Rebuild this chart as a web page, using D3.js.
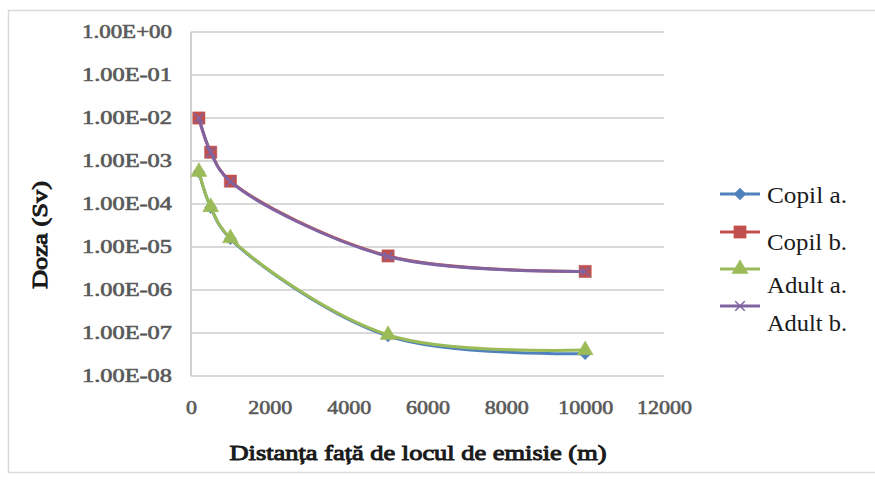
<!DOCTYPE html>
<html>
<head>
<meta charset="utf-8">
<script src="https://cdn.jsdelivr.net/npm/d3@7"></script>
<style>
  body { margin: 0; background: #fff; }
  svg { display: block; font-family: "Liberation Serif", serif; }
  svg text { font-family: "Liberation Serif", serif; }
</style>
</head>
<body>
<svg width="875" height="483"></svg>
<script>
// distances (m) and doses (Sv)
var distances = [200, 500, 1000, 5000, 10000]
var copilA = [5.5e-4, 8.3e-5, 1.55e-5, 8.5e-8, 3.3e-8]
var copilB = [1.0e-2, 1.6e-3, 3.4e-4, 6.2e-6, 2.7e-6]
var adultA = [5.6e-4, 8.5e-5, 1.6e-5, 9.0e-8, 4.0e-8]
var adultB = [1.0e-2, 1.6e-3, 3.3e-4, 6.0e-6, 2.7e-6]
var seriesNames = ['Copil a.', 'Copil b.', 'Adult a.', 'Adult b.']
var xTicks = [0, 2000, 4000, 6000, 8000, 10000, 12000]
var yTicks = [1e-8, 1e-7, 1e-6, 1e-5, 1e-4, 1e-3, 1e-2, 1e-1, 1e0]

var colors = ['#4f81bd', '#c0504d', '#9bbb59', '#8064a2']
var symbols = [d3.symbolDiamond2, d3.symbolSquare, d3.symbolTriangle, d3.symbolX]
var sizes = [90, 150, 110, 60]
var values = [copilA, copilB, adultA, adultB]

var svg = d3.select('svg')

// outer chart frame
svg.append('rect')
  .attr('x', 8.5).attr('y', 10.5).attr('width', 880).attr('height', 462)
  .attr('fill', '#fff').attr('stroke', '#d9d9d9').attr('stroke-width', 1.5)

var x = d3.scaleLinear().domain([0, 12000]).range([191, 664])
var y = d3.scaleLog().domain([1e-8, 1]).range([376, 32])

// gridlines
svg.append('g').selectAll('line').data(yTicks).enter().append('line')
  .attr('x1', x(0)).attr('x2', x(12000))
  .attr('y1', function (d) { return y(d) }).attr('y2', function (d) { return y(d) })
  .attr('stroke', '#d9d9d9').attr('stroke-width', 2)

svg.append('line')
  .attr('x1', x(0)).attr('x2', x(0)).attr('y1', y(1)).attr('y2', y(1e-8))
  .attr('stroke', '#d0d0d0').attr('stroke-width', 2)

function fmt(d) {
  var e = Math.round(Math.log10(d))
  return '1.00E' + (e < 0 ? '-' : '+') + (Math.abs(e) < 10 ? '0' : '') + Math.abs(e)
}

var yAxis = d3.axisLeft(y).tickValues(yTicks).tickFormat(fmt).tickSize(0).tickPadding(19)
svg.append('g').attr('transform', 'translate(' + x(0) + ',0)').call(yAxis)
  .call(function (g) { g.select('.domain').remove() })
  .selectAll('text')
  .style('font-size', '18px')
  .attr('fill', '#595959').attr('stroke', '#595959').attr('stroke-width', 0.6)
  .attr('textLength', 90).attr('lengthAdjust', 'spacingAndGlyphs')

var xAxis = d3.axisBottom(x).tickValues(xTicks).tickFormat(d3.format('d')).tickSize(0).tickPadding(25)
svg.append('g').attr('transform', 'translate(0,' + y(1e-8) + ')').call(xAxis)
  .call(function (g) { g.select('.domain').remove() })
  .selectAll('text')
  .style('font-size', '19px')
  .attr('fill', '#595959').attr('stroke', '#595959').attr('stroke-width', 0.6)
  .attr('textLength', function (d) { return String(d).length * 11 })
  .attr('lengthAdjust', 'spacingAndGlyphs')

// series
var line = d3.line()
  .x(function (d) { return x(d[0]) })
  .y(function (d) { return y(d[1]) })
  .curve(d3.curveCatmullRom.alpha(0.5))

values.forEach(function (vals, i) {
  var pts = distances.map(function (d, j) { return [d, vals[j]] })
  var g = svg.append('g')
  g.append('path').attr('d', line(pts))
    .attr('fill', 'none').attr('stroke', colors[i]).attr('stroke-width', 3)
  g.selectAll('path.m').data(pts).enter().append('path').attr('class', 'm')
    .attr('transform', function (d) { return 'translate(' + x(d[0]) + ',' + y(d[1]) + ')' })
    .attr('d', d3.symbol().type(symbols[i]).size(sizes[i]))
    .attr('fill', colors[i]).attr('stroke', colors[i]).attr('stroke-width', i === 3 ? 1.5 : 0.5)
})

// legend
var legLineY = [194, 232, 269, 306]
var legTextY = [203, 250, 293, 331]
seriesNames.forEach(function (name, i) {
  svg.append('line').attr('x1', 720).attr('x2', 760).attr('y1', legLineY[i]).attr('y2', legLineY[i])
    .attr('stroke', colors[i]).attr('stroke-width', 3)
  svg.append('path').attr('transform', 'translate(740,' + legLineY[i] + ')')
    .attr('d', d3.symbol().type(symbols[i]).size(sizes[i]))
    .attr('fill', colors[i]).attr('stroke', colors[i]).attr('stroke-width', i === 3 ? 1.5 : 0.5)
  svg.append('text').attr('x', 767).attr('y', legTextY[i]).text(name)
    .style('font-size', '24px').attr('fill', '#1a1a1a')
    .attr('textLength', 80).attr('lengthAdjust', 'spacingAndGlyphs')
})

// axis titles
svg.append('text').attr('x', 418).attr('y', 460).attr('text-anchor', 'middle')
  .style('font-size', '22px').attr('fill', '#1a1a1a').attr('stroke', '#1a1a1a').attr('stroke-width', 1)
  .attr('textLength', 377).attr('lengthAdjust', 'spacingAndGlyphs')
  .text('Distanța față de locul de emisie (m)')

svg.append('text').attr('transform', 'translate(47,235) rotate(-90)').attr('text-anchor', 'middle')
  .style('font-size', '22px').attr('fill', '#1a1a1a').attr('stroke', '#1a1a1a').attr('stroke-width', 1)
  .attr('textLength', 108).attr('lengthAdjust', 'spacingAndGlyphs')
  .text('Doza (Sv)')
</script>
</body>
</html>
